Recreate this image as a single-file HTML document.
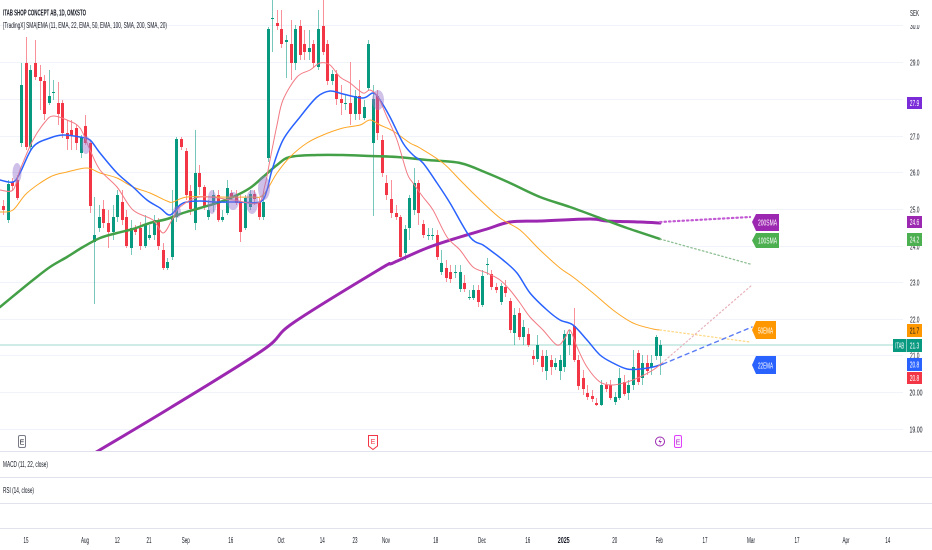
<!DOCTYPE html>
<html><head><meta charset="utf-8">
<style>html,body{margin:0;padding:0;background:#fff;overflow:hidden}svg{display:block}</style>
</head><body>
<svg id="c" width="932" height="550" viewBox="0 0 932 550" xmlns="http://www.w3.org/2000/svg" font-family="Liberation Sans, Arial, sans-serif">
<defs><clipPath id="pane"><rect x="0" y="0" width="903" height="451"/></clipPath></defs>
<rect width="932" height="550" fill="#fff"/>
<g stroke="#f0f3fa" stroke-width="1">
<line x1="0" y1="25.5" x2="903" y2="25.5"/><line x1="0" y1="62.5" x2="903" y2="62.5"/><line x1="0" y1="99.5" x2="903" y2="99.5"/><line x1="0" y1="136.5" x2="903" y2="136.5"/><line x1="0" y1="172.5" x2="903" y2="172.5"/><line x1="0" y1="209.5" x2="903" y2="209.5"/><line x1="0" y1="246.5" x2="903" y2="246.5"/><line x1="0" y1="282.5" x2="903" y2="282.5"/><line x1="0" y1="319.5" x2="903" y2="319.5"/><line x1="0" y1="355.5" x2="903" y2="355.5"/><line x1="0" y1="392.5" x2="903" y2="392.5"/><line x1="0" y1="429.5" x2="903" y2="429.5"/>
</g>
<line x1="0" y1="345" x2="906" y2="345" stroke="#bfe6df" stroke-width="1.5"/>
<g stroke="#e0e3eb" stroke-width="1">
<line x1="0" y1="451.5" x2="932" y2="451.5"/><line x1="0" y1="477.5" x2="932" y2="477.5"/><line x1="0" y1="503.5" x2="932" y2="503.5"/><line x1="0" y1="528.5" x2="932" y2="528.5"/>
</g>
<g id="candles" clip-path="url(#pane)"></g>
<g clip-path="url(#pane)" fill="none" stroke-linejoin="round" stroke-linecap="round">
<polyline class="sm" stroke="#9c27b0" stroke-width="3" points="95,453 98,451 170,408 263,350 293,323 380,269 393,263 427,248 460,237 487,229 510,222 540,221 590,219 607,221 640,222 660,223"/>
<polyline class="sm" stroke="#43a047" stroke-width="2.5" points="0,307 17,293 33,280 50,267 67,257 83,247 100,238 117,233 133,229 150,223 167,219 183,213 200,208 217,203 233,197 250,188 263,177 277,165 290,157 317,155 343,155 370,156 397,157 427,160 460,163 487,173 510,183 540,197 570,207 600,218 627,228 660,239"/>
<polyline class="sm" stroke="#ffa726" stroke-width="1" points="0,212 13,210 27,193 50,177 67,172 87,168 100,173 117,178 133,187 150,193 167,201 173,202 187,197 217,197 250,197 263,195 277,173 290,157 307,143 323,135 343,128 360,125 370,120 380,125 393,131 410,143 420,148 443,163 460,180 477,197 500,218 520,230 540,250 560,268 573,277 593,293 613,310 633,323 653,329 660,330"/>
<polyline class="sm" stroke="#2962ff" stroke-width="1.5" points="0,180 13,182 20,173 33,147 50,138 63,135 80,137 90,140 100,153 117,173 133,187 147,200 160,208 170,215 180,205 187,202 200,201 217,202 237,202 260,202 267,190 272,170 283,140 300,117 317,97 330,91 343,94 363,98 373,93 380,100 390,117 403,143 413,155 423,163 437,183 450,203 470,237 483,245 490,250 503,260 517,273 530,293 547,310 560,320 573,325 587,340 600,355 613,363 627,369 640,369 653,367 663,364"/>
<polyline class="sm" stroke="#f27a84" stroke-width="1" points="0,190 13,190 20,170 33,140 45,122 53,116 67,120 80,128 90,150 100,170 117,187 133,210 153,220 163,233 172,220 180,207 200,197 233,200 258,203 265,185 270,160 277,125 283,100 297,77 310,70 320,63 330,65 340,77 350,83 363,93 370,90 378,97 387,117 397,140 407,173 413,183 423,197 433,210 447,237 460,250 473,267 487,273 500,280 510,290 520,303 530,317 543,330 557,345 565,338 570,330 577,347 587,367 600,382 613,385 627,382 640,377 653,370 662,363"/>
<line x1="660" y1="222" x2="750" y2="217" stroke="#c25ad3" stroke-width="2.2" stroke-dasharray="1.5 3"/>
<line x1="660" y1="239" x2="750" y2="264" stroke="#8fbf94" stroke-width="1.3" stroke-dasharray="1.5 2.5"/>
<line x1="660" y1="330" x2="750" y2="342" stroke="#ffd98a" stroke-width="1.3" stroke-dasharray="1.5 2.5"/>
<line x1="662" y1="363" x2="752" y2="285" stroke="#e8b3bb" stroke-width="1.2" stroke-dasharray="1.5 2.5"/>
<line x1="663" y1="364" x2="752" y2="327" stroke="#5b7cf5" stroke-width="1.4" stroke-dasharray="4 4"/>
</g>
<g fill="#9575cd" opacity="0.45">
<ellipse cx="17" cy="173" rx="4.5" ry="10"/><ellipse cx="86" cy="145" rx="4.5" ry="9"/><ellipse cx="177" cy="212" rx="4" ry="6"/><ellipse cx="212" cy="202" rx="4.5" ry="12"/><ellipse cx="233" cy="201" rx="6" ry="9"/><ellipse cx="252" cy="202" rx="6" ry="12"/><ellipse cx="264" cy="188" rx="6" ry="12"/><ellipse cx="378" cy="100" rx="6" ry="10"/>
</g>
<!-- titles -->
<text x="3" y="15.5" font-size="8.5" font-weight="bold" fill="#131722" textLength="83" lengthAdjust="spacingAndGlyphs">ITAB SHOP CONCEPT AB, 1D, OMXSTO</text>
<text x="3" y="28" font-size="8.5" fill="#131722" textLength="164" lengthAdjust="spacingAndGlyphs">[TradingX] SMA|EMA (11, EMA, 22, EMA, 50, EMA, 100, SMA, 200, SMA, 20)</text>
<text x="3" y="467" font-size="8.5" fill="#131722" textLength="45" lengthAdjust="spacingAndGlyphs">MACD (11, 22, close)</text>
<text x="3" y="493" font-size="8.5" fill="#131722" textLength="31" lengthAdjust="spacingAndGlyphs">RSI (14, close)</text>
<!-- right axis -->
<g font-size="8.5" fill="#131722">
<text x="910" y="29" textLength="9.5" lengthAdjust="spacingAndGlyphs">30.0</text>
<text x="910" y="65.5" textLength="9.5" lengthAdjust="spacingAndGlyphs">29.0</text>
<text x="910" y="139.5" textLength="9.5" lengthAdjust="spacingAndGlyphs">27.0</text>
<text x="910" y="175.5" textLength="9.5" lengthAdjust="spacingAndGlyphs">26.0</text>
<text x="910" y="212.5" textLength="9.5" lengthAdjust="spacingAndGlyphs">25.0</text>
<text x="910" y="249.5" textLength="9.5" lengthAdjust="spacingAndGlyphs">24.0</text>
<text x="910" y="285.5" textLength="9.5" lengthAdjust="spacingAndGlyphs">23.0</text>
<text x="910" y="322.5" textLength="9.5" lengthAdjust="spacingAndGlyphs">22.0</text>
<text x="910" y="358.5" textLength="9.5" lengthAdjust="spacingAndGlyphs">21.0</text>
<text x="909.5" y="395.5" textLength="13" lengthAdjust="spacingAndGlyphs">20.00</text>
<text x="909.5" y="432.5" textLength="13" lengthAdjust="spacingAndGlyphs">19.00</text>
</g>
<rect x="903" y="17" width="29" height="8" fill="#fff"/>
<text x="910" y="16" font-size="8.5" fill="#131722" textLength="9" lengthAdjust="spacingAndGlyphs">SEK</text>
<g font-size="8.5" text-anchor="middle">
<rect x="907" y="97" width="15" height="12" fill="#7b2cd9"/><text x="914.5" y="106" fill="#fff" textLength="9.5" lengthAdjust="spacingAndGlyphs">27.9</text>
<rect x="907" y="216" width="15" height="12" fill="#9c27b0"/><text x="914.5" y="225" fill="#fff" textLength="9.5" lengthAdjust="spacingAndGlyphs">24.6</text>
<rect x="907" y="233" width="15" height="13" fill="#4caf50"/><text x="914.5" y="242.5" fill="#fff" textLength="9.5" lengthAdjust="spacingAndGlyphs">24.2</text>
<rect x="907" y="324" width="15" height="13" fill="#ff9800"/><text x="914.5" y="333.5" fill="#131722" textLength="9.5" lengthAdjust="spacingAndGlyphs">21.7</text>
<rect x="893" y="339" width="13.5" height="13" fill="#089981"/><text x="899.7" y="348.5" fill="#fff" textLength="9" lengthAdjust="spacingAndGlyphs">ITAB</text>
<rect x="907" y="339" width="15" height="13" fill="#089981"/><text x="914.5" y="348.5" fill="#fff" textLength="9.5" lengthAdjust="spacingAndGlyphs">21.3</text>
<rect x="907" y="358" width="15" height="13" fill="#2962ff"/><text x="914.5" y="367.5" fill="#fff" textLength="9.5" lengthAdjust="spacingAndGlyphs">20.8</text>
<rect x="907" y="372" width="15" height="12" fill="#f23645"/><text x="914.5" y="381" fill="#fff" textLength="9.5" lengthAdjust="spacingAndGlyphs">20.8</text>
</g>
<!-- in-chart labels -->
<g font-size="8.5" text-anchor="middle" fill="#fff">
<polygon points="752,222 756,214 779,214 779,231 756,231" fill="#9c27b0"/><text x="767.5" y="225.5" textLength="19" lengthAdjust="spacingAndGlyphs">200SMA</text>
<polygon points="752,240.5 756,233 779,233 779,248 756,248" fill="#4caf50"/><text x="767.5" y="243.5" textLength="19" lengthAdjust="spacingAndGlyphs">100SMA</text>
<polygon points="752,330 756,321 776,321 776,339 756,339" fill="#ff9800"/><text x="765.5" y="333.5" textLength="15" lengthAdjust="spacingAndGlyphs">50EMA</text>
<polygon points="752,365 756,356 776,356 776,374 756,374" fill="#2962ff"/><text x="765.5" y="368.5" textLength="15" lengthAdjust="spacingAndGlyphs">22EMA</text>
</g>
<!-- event markers -->
<rect x="18.5" y="435.5" width="7" height="12" rx="1.5" fill="#fff" stroke="#787b86" stroke-width="1"/>
<text x="22" y="444.5" font-size="7" text-anchor="middle" fill="#131722">E</text>
<path d="M368.5,435.5 H377.5 V446 L373,449.5 L368.5,446 Z" fill="#fff" stroke="#f23645" stroke-width="1"/>
<text x="373" y="444" font-size="7" text-anchor="middle" fill="#f23645">E</text>
<circle cx="660" cy="441.5" r="4.5" fill="#fff" stroke="#9c27b0" stroke-width="1"/>
<path d="M661,437.5 L658.5,442 L660.5,442 L659,445.5 L661.8,441 L659.8,441 Z" fill="#9c27b0"/>
<rect x="674.5" y="435.5" width="7" height="12" rx="1.5" fill="#fdf2ff" stroke="#e040fb" stroke-width="1"/>
<text x="678" y="444.5" font-size="7" text-anchor="middle" fill="#b030c8">E</text>
<!-- time axis -->
<g font-size="8.5" fill="#131722" text-anchor="middle">
<text x="26" y="543" textLength="5" lengthAdjust="spacingAndGlyphs">15</text>
<text x="85" y="543" textLength="8" lengthAdjust="spacingAndGlyphs">Aug</text>
<text x="117.3" y="543" textLength="5" lengthAdjust="spacingAndGlyphs">12</text>
<text x="149" y="543" textLength="5" lengthAdjust="spacingAndGlyphs">21</text>
<text x="185.7" y="543" textLength="8" lengthAdjust="spacingAndGlyphs">Sep</text>
<text x="230.7" y="543" textLength="5" lengthAdjust="spacingAndGlyphs">16</text>
<text x="281" y="543" textLength="7" lengthAdjust="spacingAndGlyphs">Oct</text>
<text x="322.3" y="543" textLength="5" lengthAdjust="spacingAndGlyphs">14</text>
<text x="355" y="543" textLength="5" lengthAdjust="spacingAndGlyphs">23</text>
<text x="386" y="543" textLength="8" lengthAdjust="spacingAndGlyphs">Nov</text>
<text x="435.7" y="543" textLength="5" lengthAdjust="spacingAndGlyphs">18</text>
<text x="482" y="543" textLength="8" lengthAdjust="spacingAndGlyphs">Dec</text>
<text x="527.7" y="543" textLength="5" lengthAdjust="spacingAndGlyphs">16</text>
<text x="563.7" y="543" font-weight="bold" textLength="12" lengthAdjust="spacingAndGlyphs">2025</text>
<text x="614.7" y="543" textLength="5" lengthAdjust="spacingAndGlyphs">20</text>
<text x="659.3" y="543" textLength="7" lengthAdjust="spacingAndGlyphs">Feb</text>
<text x="705" y="543" textLength="5" lengthAdjust="spacingAndGlyphs">17</text>
<text x="751" y="543" textLength="8" lengthAdjust="spacingAndGlyphs">Mar</text>
<text x="797" y="543" textLength="5" lengthAdjust="spacingAndGlyphs">17</text>
<text x="846" y="543" textLength="7" lengthAdjust="spacingAndGlyphs">Apr</text>
<text x="887.7" y="543" textLength="5" lengthAdjust="spacingAndGlyphs">14</text>
</g>
</svg>
<script>
(function(){
var D=[
[0,206,210,1,200,215],[1,184,220,0,180,223],[2,182,186,1,178,190],[3,180,198,1,175,200],[4,85,143,0,63,147],[5,63,147,1,37,150],[6,70,147,0,65,150],[7,63,77,1,40,80],[8,77,81,1,65,110],[9,81,114,1,75,120],
[10,96,103,0,70,105],[11,92,93,0,80,100],[12,103,114,1,82,125],[13,103,133,1,100,138],[14,133,139,1,120,150],[15,130,135,1,120,150],[16,128,143,1,125,150],[17,137,153,0,135,158],[18,126,143,1,115,145],[19,143,206,1,140,213],
[20,235,242,0,197,304],[21,217,228,0,205,232],[22,209,223,1,200,228],[23,223,232,1,210,248],[24,217,232,0,205,240],[25,195,217,0,190,222],[26,202,220,1,190,225],[27,217,246,1,210,248],[28,228,248,0,220,255],[29,228,232,1,225,235],
[30,228,246,1,222,250],[31,224,246,0,215,248],[32,235,238,0,225,240],[33,220,235,0,215,240],[34,220,246,1,218,250],[35,250,268,1,243,270],[36,262,268,0,258,270],[37,217,257,0,190,260],[38,139,217,0,137,222],[39,139,147,1,137,150],
[40,151,195,1,148,200],[41,191,209,1,185,215],[42,173,223,0,130,230],[43,173,187,1,165,195],[44,187,207,1,185,210],[45,210,217,0,200,220],[46,195,205,0,190,212],[47,195,220,1,190,222],[48,217,220,0,210,222],[49,188,213,0,180,215],
[50,193,197,1,190,200],[51,195,203,1,190,205],[52,202,232,1,195,242],[53,198,228,0,195,230],[54,194,207,0,190,210],[55,194,199,1,190,205],[56,202,217,1,198,220],[57,202,217,0,195,220],[58,29,158,0,27,162],[59,18,19,0,0,52],
[60,23,26,1,10,30],[61,29,44,1,10,48],[62,40,42,0,35,78],[63,44,63,1,20,80],[64,29,63,0,25,70],[65,26,55,1,20,60],[66,44,52,1,30,60],[67,48,52,0,30,60],[68,44,63,1,40,68],[69,29,67,0,10,70],
[70,26,52,1,0,55],[71,44,81,1,40,85],[72,74,81,0,70,85],[73,74,99,1,70,105],[74,99,103,1,85,115],[75,103,104,0,95,110],[76,103,114,1,62,125],[77,96,114,0,90,120],[78,96,114,1,80,120],[79,107,118,0,100,120],
[80,44,88,0,40,90],[81,99,143,0,85,216],[82,96,133,1,90,140],[83,140,173,1,135,177],[84,183,195,1,175,200],[85,199,213,1,180,218],[86,213,217,1,205,220],[87,217,257,1,215,258],[88,229,253,0,225,260],[89,198,228,0,195,240],
[90,183,210,0,168,215],[91,183,213,1,180,225],[92,224,235,1,220,238],[93,235,236,0,228,240],[94,235,236,0,228,240],[95,235,257,1,230,260],[96,263,272,0,250,275],[97,268,278,1,260,282],[98,272,279,1,265,283],[99,272,273,0,265,278],
[100,272,289,0,265,292],[101,283,289,1,275,292],[102,297,298,0,290,300],[103,290,298,0,285,300],[104,290,302,1,285,307],[105,276,305,0,270,307],[106,264,265,0,258,275],[107,274,287,1,270,290],[108,287,290,1,283,293],[109,286,302,0,283,305],
[110,287,293,1,280,297],[111,301,330,1,298,333],[112,315,333,0,308,345],[113,313,337,1,308,340],[114,327,337,0,320,345],[115,334,345,1,328,347],[116,356,359,1,350,365],[117,345,359,0,335,362],[118,356,367,1,350,372],[119,356,371,0,350,380],
[120,360,367,1,355,375],[121,363,367,0,358,370],[122,360,371,0,355,380],[123,334,367,0,330,372],[124,334,345,0,330,355],[125,326,360,1,308,362],[126,360,386,1,355,390],[127,378,389,1,370,395],[128,393,397,1,385,400],[129,396,399,1,390,402],
[130,403,405,1,398,406],[131,385,405,0,380,406],[132,385,389,1,382,392],[133,385,398,1,380,400],[134,397,402,0,392,405],[135,378,398,0,368,400],[136,382,394,1,375,396],[137,385,393,0,380,400],[138,367,385,0,350,390],[139,353,382,1,350,385],
[140,363,378,0,355,385],[141,363,371,1,355,375],[142,363,367,0,355,375],[143,337,356,0,335,360],[144,345,356,0,340,375]
];
var g=document.getElementById('candles'),h='';
for(var k=0;k<D.length;k++){
 var d=D[k],cx=Math.round(3+4.565*d[0]),col=d[3]?'#f23645':'#089981';
 var t=Math.min(d[1],d[2]),b=Math.max(d[1],d[2]);if(b-t<1)b=t+1;
 h+='<line x1="'+(cx+0.5)+'" y1="'+d[4]+'" x2="'+(cx+0.5)+'" y2="'+d[5]+'" stroke="'+col+'" stroke-opacity="0.55" stroke-width="1"/>';
 h+='<rect x="'+(cx-1)+'" y="'+t+'" width="3" height="'+(b-t)+'" fill="'+col+'"/>';
}
g.innerHTML=h;
// smooth MA polylines
var pl=document.querySelectorAll('polyline.sm');
for(var i=0;i<pl.length;i++){
 var p=pl[i],raw=p.getAttribute('points').trim().split(/\s+/),P=[];
 for(var j=0;j<raw.length;j++){var c=raw[j].split(',');P.push([+c[0],+c[1]]);}
 var s='M'+P[0][0]+','+P[0][1];
 for(var j=0;j<P.length-1;j++){
  var p0=P[j-1]||P[j],p1=P[j],p2=P[j+1],p3=P[j+2]||p2;
  var c1x=p1[0]+(p2[0]-p0[0])/6,c1y=p1[1]+(p2[1]-p0[1])/6,c2x=p2[0]-(p3[0]-p1[0])/6,c2y=p2[1]-(p3[1]-p1[1])/6;
  s+=' C'+c1x.toFixed(2)+','+c1y.toFixed(2)+' '+c2x.toFixed(2)+','+c2y.toFixed(2)+' '+p2[0]+','+p2[1];
 }
 var path=document.createElementNS('http://www.w3.org/2000/svg','path');
 path.setAttribute('d',s);
 path.setAttribute('stroke',p.getAttribute('stroke'));
 path.setAttribute('stroke-width',p.getAttribute('stroke-width'));
 path.setAttribute('fill','none');
 p.parentNode.replaceChild(path,p);
}
})();
</script>
</body></html>
